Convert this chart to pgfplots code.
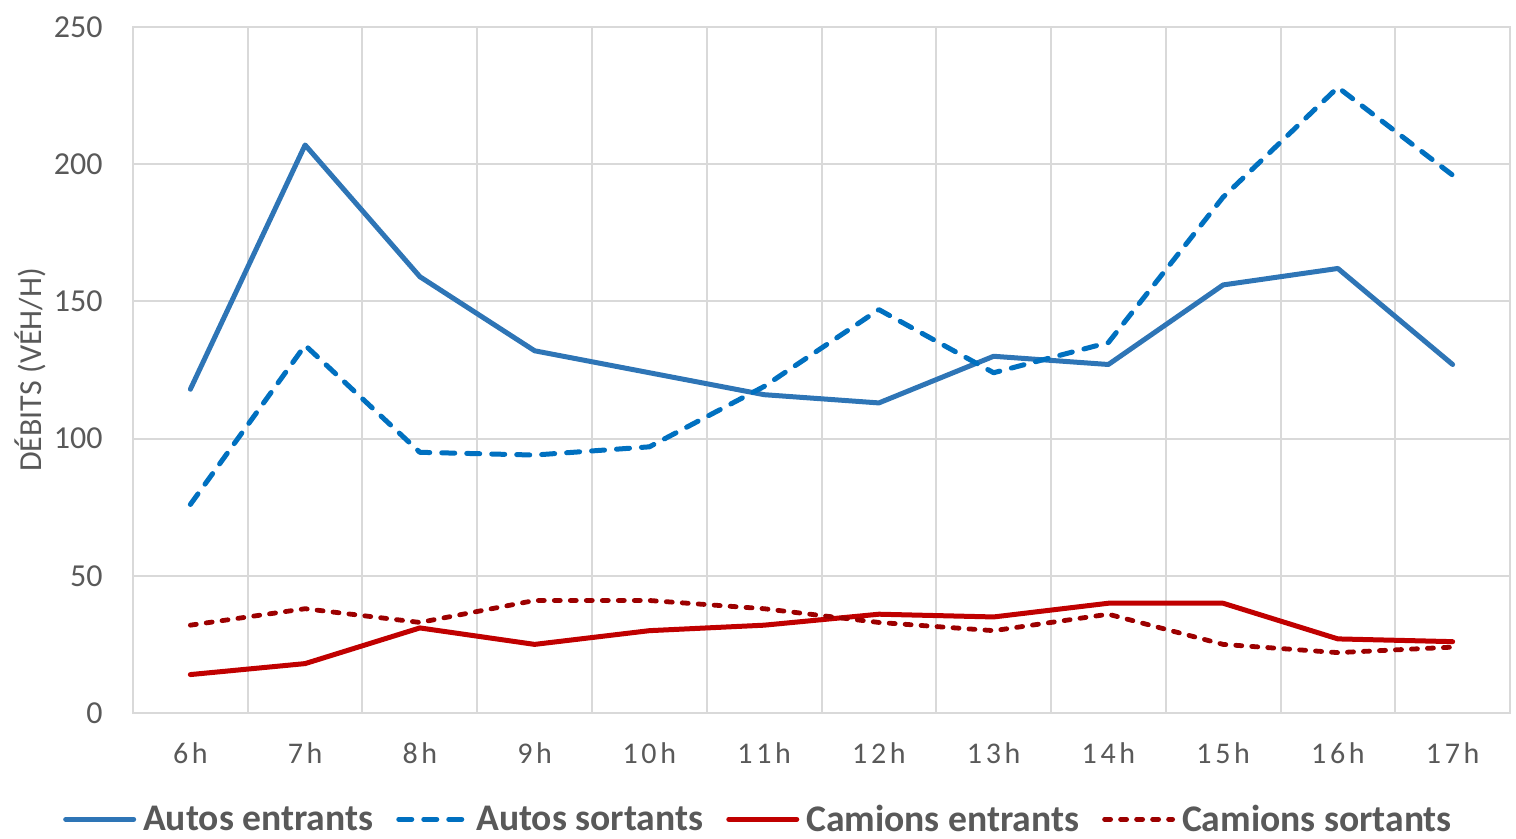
\documentclass[border=0pt]{standalone}
\usepackage{pgfplots}
\pgfplotsset{compat=1.18}
\usepackage{fontspec}
\setmainfont{Carlito}
\definecolor{txt}{HTML}{595959}
\definecolor{grd}{HTML}{D9D9D9}
\definecolor{ae}{HTML}{2E75B6}
\definecolor{as}{HTML}{0070C0}
\definecolor{ce}{HTML}{C00000}
\definecolor{cs}{HTML}{9C0000}
\begin{document}
\begin{tikzpicture}
\useasboundingbox (-66.5pt,-63pt) rectangle (691.5pt,356.5pt);
\begin{axis}[
  at={(0pt,0pt)}, anchor=south west,
  scale only axis, width=688.5pt, height=343pt,
  xmin=-0.5, xmax=11.5, ymin=0, ymax=250,
  xtick={0,...,11},
  xticklabels={6h,7h,8h,9h,10h,11h,12h,13h,14h,15h,16h,17h},
  minor xtick={-0.5,0.5,...,11.5},
  ytick={0,50,...,250},
  major tick length=0pt, minor tick length=0pt,
  xminorgrids=true, ymajorgrids=true,
  grid style={grd, line width=1pt},
  minor grid style={grd, line width=1pt},
  axis line style={grd, line width=1pt},
  tick label style={font=\fontsize{16pt}{18pt}\selectfont, text=txt},
  xticklabel style={inner sep=0pt, yshift=-14.5pt, font=\fontsize{15pt}{18pt}\selectfont\addfontfeatures{LetterSpace=12}},
  yticklabel style={inner sep=0pt, xshift=-15pt},
  /pgf/number format/assume math mode=true,
  ylabel={DÉBITS (VÉH/H)},
  ylabel style={at={(axis description cs:-0.0748,0.5)}, anchor=center, font=\fontsize{16pt}{18pt}\selectfont, text=txt},
  legend columns=4,
  legend style={at={(axis description cs:0.4539,-0.155)}, anchor=center, draw=none, fill=none,
    font=\fontsize{18.8pt}{20pt}\selectfont\bfseries, text=txt,
    /tikz/every even column/.append style={column sep=11pt},
    nodes={inner sep=0.5pt}},
  legend cell align=left,
  legend image code/.code={\draw[#1] (0pt,0pt) -- (34pt,0pt); \path (37pt,0pt);},
]
\addplot[ae, line width=2.5pt, line cap=round, line join=round] coordinates {
(0,118) (1,207) (2,159) (3,132) (4,124) (5,116) (6,113) (7,130) (8,127) (9,156) (10,162) (11,127)};
\addlegendentry{Autos entrants}
\addplot[as, line width=2.5pt, line cap=round, line join=round, dash pattern=on 6.5pt off 6pt] coordinates {
(0,76) (1,134) (2,95) (3,94) (4,97) (5,119) (6,147) (7,124) (8,135) (9,188) (10,228) (11,196)};
\addlegendentry{Autos sortants}
\addplot[ce, line width=2.5pt, line cap=round, line join=round] coordinates {
(0,14) (1,18) (2,31) (3,25) (4,30) (5,32) (6,36) (7,35) (8,40) (9,40) (10,27) (11,26)};
\addlegendentry{Camions entrants}
\addplot[cs, line width=2.4pt, line cap=round, line join=round, dash pattern=on 3pt off 5pt] coordinates {
(0,32) (1,38) (2,33) (3,41) (4,41) (5,38) (6,33) (7,30) (8,36) (9,25) (10,22) (11,24)};
\addlegendentry{Camions sortants}
\end{axis}
\end{tikzpicture}
\end{document}
